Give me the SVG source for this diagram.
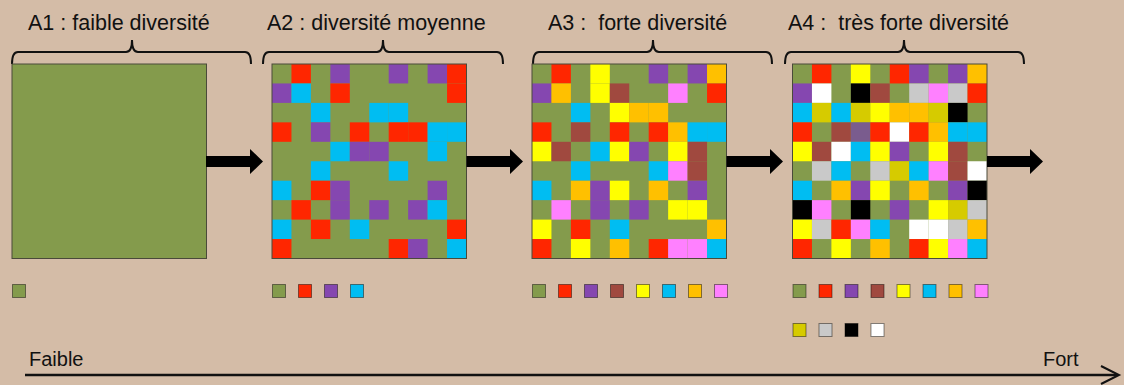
<svg xmlns="http://www.w3.org/2000/svg" width="1124" height="385" viewBox="0 0 1124 385">
<defs>
<style>
.t{font-family:"Liberation Sans",Arial,sans-serif;font-size:21.5px;fill:#111}
.s{font-family:"Liberation Sans",Arial,sans-serif;font-size:20px;fill:#111}
.br{fill:none;stroke:#111;stroke-width:2}
.G{fill:#849b4c}.R{fill:#ff2600}.P{fill:#8547b0}.C{fill:#00bdf2}.Y{fill:#ffff00}.O{fill:#ffc000}.K{fill:#ff80ff}.B{fill:#a0493f}.W{fill:#ffffff}.D{fill:#d6cb00}.S{fill:#c9c9c9}.X{fill:#000000}.V{fill:#7a5c8e}
.frame{fill:none;stroke:#4a4a3a;stroke-width:1}
.lg rect{stroke:#000;stroke-opacity:0.45;stroke-width:1}
.arr{fill:#000}
</style>
</defs>
<rect width="1124" height="385" fill="#d4bca7"/>

<!-- titles and braces -->
<g id="title-A1"><text class="t" x="28" y="30">A1 : faible diversité</text><path class="br" d="M12,64 Q12,52 18,52 H126 Q132,52 132,40 Q132,52 138,52 H245 Q251,52 251,64"/></g>
<g id="title-A2"><text class="t" x="267" y="30">A2 : diversité moyenne</text><path class="br" d="M263,64 Q263,52 269,52 H377 Q383,52 383,40 Q383,52 389,52 H497 Q503,52 503,64"/></g>
<g id="title-A3"><text class="t" x="548" y="30" xml:space="preserve">A3 :  forte diversité</text><path class="br" d="M533,64 Q533,52 539,52 H647 Q653,52 653,40 Q653,52 659,52 H766 Q772,52 772,64"/></g>
<g id="title-A4"><text class="t" x="788" y="30" xml:space="preserve">A4 :  très forte diversité</text><path class="br" d="M785,64 Q785,52 791,52 H898 Q904,52 904,40 Q904,52 910,52 H1018 Q1024,52 1024,64"/></g>

<!-- A1 grid -->
<g id="A1">
<rect class="G" x="12" y="64" width="194.5" height="194.5"/>
<rect class="frame" x="12" y="64" width="194.5" height="194.5"/>
</g>

<!-- A2 grid -->
<g id="A2">
<g transform="translate(272,64) scale(1.945)">
<rect class="G" width="100" height="100"/>
<rect class="R" x="10" y="0" width="10" height="10"/><rect class="P" x="30" y="0" width="10" height="10"/><rect class="P" x="60" y="0" width="10" height="10"/><rect class="P" x="80" y="0" width="10" height="10"/><rect class="R" x="90" y="0" width="10" height="10"/>
<rect class="P" x="0" y="10" width="10" height="10"/><rect class="C" x="10" y="10" width="10" height="10"/><rect class="R" x="30" y="10" width="10" height="10"/><rect class="R" x="90" y="10" width="10" height="10"/>
<rect class="C" x="20" y="20" width="10" height="10"/><rect class="C" x="50" y="20" width="10" height="10"/><rect class="C" x="60" y="20" width="10" height="10"/>
<rect class="R" x="0" y="30" width="10" height="10"/><rect class="P" x="20" y="30" width="10" height="10"/><rect class="R" x="40" y="30" width="10" height="10"/><rect class="R" x="60" y="30" width="10" height="10"/><rect class="R" x="70" y="30" width="10" height="10"/><rect class="C" x="80" y="30" width="10" height="10"/><rect class="C" x="90" y="30" width="10" height="10"/>
<rect class="C" x="30" y="40" width="10" height="10"/><rect class="P" x="40" y="40" width="10" height="10"/><rect class="P" x="50" y="40" width="10" height="10"/><rect class="C" x="80" y="40" width="10" height="10"/>
<rect class="C" x="20" y="50" width="10" height="10"/><rect class="C" x="60" y="50" width="10" height="10"/>
<rect class="C" x="0" y="60" width="10" height="10"/><rect class="R" x="20" y="60" width="10" height="10"/><rect class="P" x="30" y="60" width="10" height="10"/><rect class="P" x="80" y="60" width="10" height="10"/>
<rect class="R" x="10" y="70" width="10" height="10"/><rect class="P" x="30" y="70" width="10" height="10"/><rect class="P" x="50" y="70" width="10" height="10"/><rect class="P" x="70" y="70" width="10" height="10"/><rect class="C" x="80" y="70" width="10" height="10"/>
<rect class="C" x="0" y="80" width="10" height="10"/><rect class="R" x="20" y="80" width="10" height="10"/><rect class="C" x="40" y="80" width="10" height="10"/><rect class="R" x="90" y="80" width="10" height="10"/>
<rect class="R" x="0" y="90" width="10" height="10"/><rect class="R" x="60" y="90" width="10" height="10"/><rect class="P" x="70" y="90" width="10" height="10"/><rect class="C" x="90" y="90" width="10" height="10"/>
</g>
<rect class="frame" x="272" y="64" width="194.5" height="194.5"/>
</g>

<!-- A3 grid -->
<g id="A3">
<g transform="translate(532,64) scale(1.945)">
<rect class="G" width="100" height="100"/>
<rect class="R" x="10" y="0" width="10" height="10"/><rect class="Y" x="30" y="0" width="10" height="10"/><rect class="P" x="60" y="0" width="10" height="10"/><rect class="P" x="80" y="0" width="10" height="10"/><rect class="O" x="90" y="0" width="10" height="10"/>
<rect class="P" x="0" y="10" width="10" height="10"/><rect class="O" x="10" y="10" width="10" height="10"/><rect class="Y" x="30" y="10" width="10" height="10"/><rect class="B" x="40" y="10" width="10" height="10"/><rect class="K" x="70" y="10" width="10" height="10"/><rect class="R" x="90" y="10" width="10" height="10"/>
<rect class="C" x="20" y="20" width="10" height="10"/><rect class="Y" x="40" y="20" width="10" height="10"/><rect class="O" x="50" y="20" width="10" height="10"/><rect class="O" x="60" y="20" width="10" height="10"/>
<rect class="R" x="0" y="30" width="10" height="10"/><rect class="B" x="20" y="30" width="10" height="10"/><rect class="R" x="40" y="30" width="10" height="10"/><rect class="R" x="60" y="30" width="10" height="10"/><rect class="O" x="70" y="30" width="10" height="10"/><rect class="C" x="80" y="30" width="10" height="10"/><rect class="C" x="90" y="30" width="10" height="10"/>
<rect class="Y" x="0" y="40" width="10" height="10"/><rect class="B" x="10" y="40" width="10" height="10"/><rect class="C" x="30" y="40" width="10" height="10"/><rect class="Y" x="40" y="40" width="10" height="10"/><rect class="P" x="50" y="40" width="10" height="10"/><rect class="Y" x="70" y="40" width="10" height="10"/><rect class="B" x="80" y="40" width="10" height="10"/>
<rect class="C" x="20" y="50" width="10" height="10"/><rect class="C" x="60" y="50" width="10" height="10"/><rect class="K" x="70" y="50" width="10" height="10"/><rect class="B" x="80" y="50" width="10" height="10"/>
<rect class="C" x="0" y="60" width="10" height="10"/><rect class="O" x="20" y="60" width="10" height="10"/><rect class="P" x="30" y="60" width="10" height="10"/><rect class="Y" x="40" y="60" width="10" height="10"/><rect class="O" x="60" y="60" width="10" height="10"/><rect class="P" x="80" y="60" width="10" height="10"/>
<rect class="K" x="10" y="70" width="10" height="10"/><rect class="P" x="30" y="70" width="10" height="10"/><rect class="P" x="50" y="70" width="10" height="10"/><rect class="Y" x="70" y="70" width="10" height="10"/><rect class="Y" x="80" y="70" width="10" height="10"/>
<rect class="Y" x="0" y="80" width="10" height="10"/><rect class="R" x="20" y="80" width="10" height="10"/><rect class="C" x="40" y="80" width="10" height="10"/><rect class="O" x="90" y="80" width="10" height="10"/>
<rect class="R" x="0" y="90" width="10" height="10"/><rect class="Y" x="20" y="90" width="10" height="10"/><rect class="O" x="40" y="90" width="10" height="10"/><rect class="R" x="60" y="90" width="10" height="10"/><rect class="K" x="70" y="90" width="10" height="10"/><rect class="K" x="80" y="90" width="10" height="10"/><rect class="C" x="90" y="90" width="10" height="10"/>
</g>
<rect class="frame" x="532" y="64" width="194.5" height="194.5"/>
</g>

<!-- A4 grid -->
<g id="A4">
<g transform="translate(792.5,64) scale(1.945)">
<rect class="G" width="100" height="100"/>
<rect class="R" x="10" y="0" width="10" height="10"/><rect class="Y" x="30" y="0" width="10" height="10"/><rect class="R" x="50" y="0" width="10" height="10"/><rect class="P" x="60" y="0" width="10" height="10"/><rect class="P" x="80" y="0" width="10" height="10"/><rect class="O" x="90" y="0" width="10" height="10"/>
<rect class="P" x="0" y="10" width="10" height="10"/><rect class="W" x="10" y="10" width="10" height="10"/><rect class="X" x="30" y="10" width="10" height="10"/><rect class="B" x="40" y="10" width="10" height="10"/><rect class="S" x="60" y="10" width="10" height="10"/><rect class="K" x="70" y="10" width="10" height="10"/><rect class="S" x="80" y="10" width="10" height="10"/><rect class="R" x="90" y="10" width="10" height="10"/>
<rect class="C" x="0" y="20" width="10" height="10"/><rect class="D" x="10" y="20" width="10" height="10"/><rect class="C" x="20" y="20" width="10" height="10"/><rect class="D" x="30" y="20" width="10" height="10"/><rect class="Y" x="40" y="20" width="10" height="10"/><rect class="O" x="50" y="20" width="10" height="10"/><rect class="O" x="60" y="20" width="10" height="10"/><rect class="D" x="70" y="20" width="10" height="10"/><rect class="X" x="80" y="20" width="10" height="10"/>
<rect class="R" x="0" y="30" width="10" height="10"/><rect class="B" x="20" y="30" width="10" height="10"/><rect class="V" x="30" y="30" width="10" height="10"/><rect class="R" x="40" y="30" width="10" height="10"/><rect class="W" x="50" y="30" width="10" height="10"/><rect class="R" x="60" y="30" width="10" height="10"/><rect class="O" x="70" y="30" width="10" height="10"/><rect class="C" x="80" y="30" width="10" height="10"/><rect class="C" x="90" y="30" width="10" height="10"/>
<rect class="Y" x="0" y="40" width="10" height="10"/><rect class="B" x="10" y="40" width="10" height="10"/><rect class="W" x="20" y="40" width="10" height="10"/><rect class="C" x="30" y="40" width="10" height="10"/><rect class="Y" x="40" y="40" width="10" height="10"/><rect class="P" x="50" y="40" width="10" height="10"/><rect class="Y" x="70" y="40" width="10" height="10"/><rect class="B" x="80" y="40" width="10" height="10"/>
<rect class="S" x="10" y="50" width="10" height="10"/><rect class="C" x="20" y="50" width="10" height="10"/><rect class="S" x="40" y="50" width="10" height="10"/><rect class="D" x="50" y="50" width="10" height="10"/><rect class="C" x="60" y="50" width="10" height="10"/><rect class="K" x="70" y="50" width="10" height="10"/><rect class="B" x="80" y="50" width="10" height="10"/><rect class="W" x="90" y="50" width="10" height="10"/>
<rect class="C" x="0" y="60" width="10" height="10"/><rect class="O" x="20" y="60" width="10" height="10"/><rect class="P" x="30" y="60" width="10" height="10"/><rect class="Y" x="40" y="60" width="10" height="10"/><rect class="O" x="60" y="60" width="10" height="10"/><rect class="P" x="80" y="60" width="10" height="10"/><rect class="X" x="90" y="60" width="10" height="10"/>
<rect class="X" x="0" y="70" width="10" height="10"/><rect class="K" x="10" y="70" width="10" height="10"/><rect class="X" x="30" y="70" width="10" height="10"/><rect class="P" x="50" y="70" width="10" height="10"/><rect class="Y" x="70" y="70" width="10" height="10"/><rect class="D" x="80" y="70" width="10" height="10"/><rect class="S" x="90" y="70" width="10" height="10"/>
<rect class="Y" x="0" y="80" width="10" height="10"/><rect class="S" x="10" y="80" width="10" height="10"/><rect class="R" x="20" y="80" width="10" height="10"/><rect class="K" x="30" y="80" width="10" height="10"/><rect class="C" x="40" y="80" width="10" height="10"/><rect class="W" x="60" y="80" width="10" height="10"/><rect class="W" x="70" y="80" width="10" height="10"/><rect class="S" x="80" y="80" width="10" height="10"/><rect class="O" x="90" y="80" width="10" height="10"/>
<rect class="R" x="0" y="90" width="10" height="10"/><rect class="Y" x="20" y="90" width="10" height="10"/><rect class="O" x="40" y="90" width="10" height="10"/><rect class="R" x="60" y="90" width="10" height="10"/><rect class="Y" x="70" y="90" width="10" height="10"/><rect class="K" x="80" y="90" width="10" height="10"/><rect class="C" x="90" y="90" width="10" height="10"/>
</g>
<rect class="frame" x="792.5" y="64" width="194.5" height="194.5"/>
</g>

<!-- legends -->
<g id="legend-A1" class="lg"><rect class="G" x="12.5" y="284.5" width="13" height="13"/></g>
<g id="legend-A2" class="lg">
<rect class="G" x="272.5" y="284.5" width="13" height="13"/><rect class="R" x="298.5" y="284.5" width="13" height="13"/><rect class="P" x="324.5" y="284.5" width="13" height="13"/><rect class="C" x="350.5" y="284.5" width="13" height="13"/>
</g>
<g id="legend-A3" class="lg">
<rect class="G" x="532.5" y="284.5" width="13" height="13"/><rect class="R" x="558.5" y="284.5" width="13" height="13"/><rect class="P" x="584.5" y="284.5" width="13" height="13"/><rect class="B" x="610.5" y="284.5" width="13" height="13"/><rect class="Y" x="636.5" y="284.5" width="13" height="13"/><rect class="C" x="662.5" y="284.5" width="13" height="13"/><rect class="O" x="688.5" y="284.5" width="13" height="13"/><rect class="K" x="714.5" y="284.5" width="13" height="13"/>
</g>
<g id="legend-A4" class="lg">
<rect class="G" x="793" y="284.5" width="13" height="13"/><rect class="R" x="819" y="284.5" width="13" height="13"/><rect class="P" x="845" y="284.5" width="13" height="13"/><rect class="B" x="871" y="284.5" width="13" height="13"/><rect class="Y" x="897" y="284.5" width="13" height="13"/><rect class="C" x="923" y="284.5" width="13" height="13"/><rect class="O" x="949" y="284.5" width="13" height="13"/><rect class="K" x="975" y="284.5" width="13" height="13"/>
<rect class="D" x="793" y="323.5" width="13" height="13"/><rect class="S" x="819" y="323.5" width="13" height="13"/><rect class="X" x="845" y="323.5" width="13" height="13"/><rect class="W" x="871" y="323.5" width="13" height="13"/>
</g>

<!-- connectors -->
<g id="connectors">
<polygon class="arr" points="206,156 250,156 250,149 263,161.5 250,174 250,167 206,167"/>
<polygon class="arr" points="466.5,156 510,156 510,149 523,161.5 510,174 510,167 466.5,167"/>
<polygon class="arr" points="726.5,156 770,156 770,149 783,161.5 770,174 770,167 726.5,167"/>
<polygon class="arr" points="987,156 1030,156 1030,149 1043,161.5 1030,174 1030,167 987,167"/>
<path d="M25,375 H1117" stroke="#111" stroke-width="2.5" fill="none"/>
<path d="M1101,366 L1119,375 L1101,384" stroke="#111" stroke-width="2" fill="none"/>
</g>

<g id="axis-labels">
<text class="s" x="29" y="366">Faible</text>
<text class="s" x="1043" y="366">Fort</text>
</g>
</svg>
